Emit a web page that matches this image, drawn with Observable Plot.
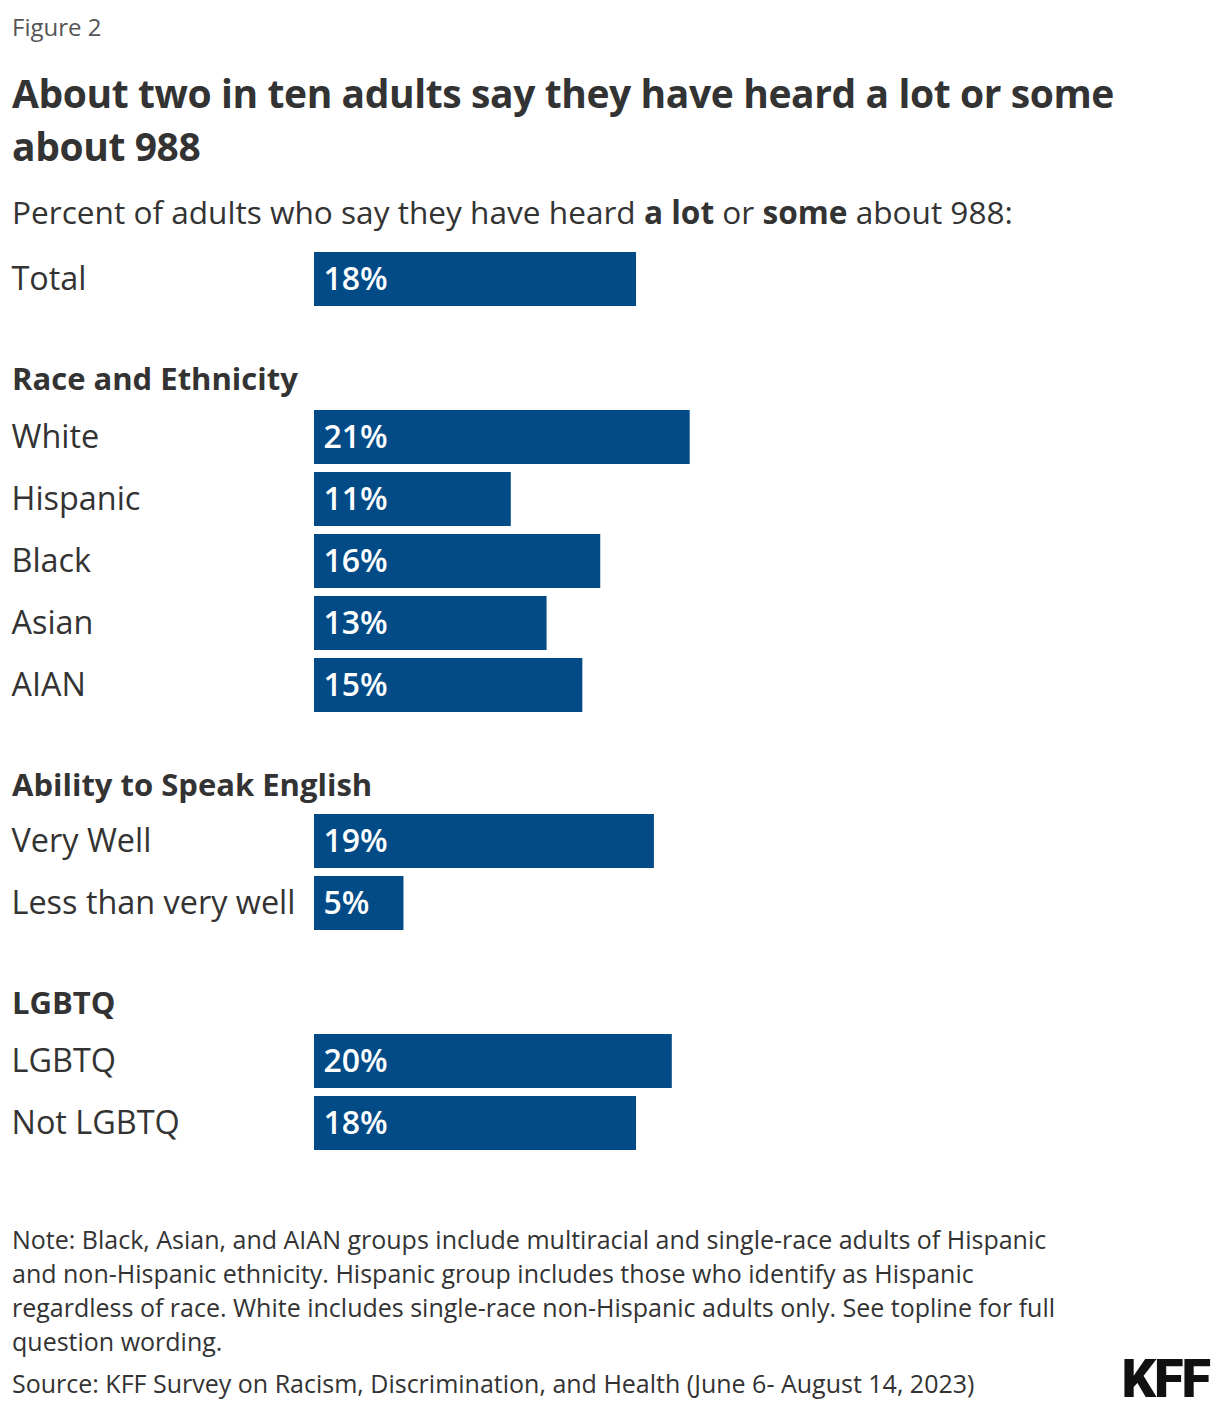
<!DOCTYPE html>
<html>
<head>
<meta charset="utf-8">
<script src="https://cdn.jsdelivr.net/npm/d3@7"></script>
<script src="https://cdn.jsdelivr.net/npm/@observablehq/plot@0.6"></script>
<style>
  html, body { margin: 0; padding: 0; background: #fff; }
  body { width: 1220px; height: 1410px; position: relative; font-family: "Open Sans", "Noto Sans", sans-serif; color: #333; overflow: hidden; }
  .abs { position: absolute; left: 12px; white-space: nowrap; }
  #fig { top: 12px; font-size: 24px; line-height: 30px; color: #555; }
  #title { top: 66px; font-size: 39px; line-height: 53px; font-weight: 700; color: #333; letter-spacing: -0.4px; }
  #subtitle { top: 192px; font-size: 31.6px; line-height: 40px; }
  .hdr { font-size: 31px; line-height: 40px; font-weight: 700; }
  .sec { position: absolute; left: 0; }
  #note { top: 1222px; font-size: 25px; line-height: 34px; }
  #source { top: 1366px; font-size: 25px; line-height: 34px; }
  #logo { position: absolute; right: 11px; top: 1349px; font-size: 54px; line-height: 60px; font-weight: 900; color: #111; letter-spacing: -2px; font-family: "Liberation Sans Narrow", "Roboto", sans-serif; }
</style>
</head>
<body>
<div id="fig" class="abs">Figure 2</div>
<div id="title" class="abs">About two in ten adults say they have heard a lot or some<br>about 988</div>
<div id="subtitle" class="abs">Percent of adults who say they have heard <b>a lot</b> or <b>some</b> about 988:</div>
<div id="charts"></div>
<div id="note" class="abs">Note: Black, Asian, and AIAN groups include multiracial and single-race adults of Hispanic<br>and non-Hispanic ethnicity. Hispanic group includes those who identify as Hispanic<br>regardless of race. White includes single-race non-Hispanic adults only. See topline for full<br>question wording.</div>
<div id="source" class="abs">Source: KFF Survey on Racism, Discrimination, and Health (June 6- August 14, 2023)</div>
<div id="logo">KFF</div>
<script>
// ---- Data ----
const totalLabels = ["Total"];
const totalValues = [18];

const raceLabels = ["White", "Hispanic", "Black", "Asian", "AIAN"];
const raceValues = [21, 11, 16, 13, 15];

const englishLabels = ["Very Well", "Less than very well"];
const englishValues = [19, 5];

const lgbtqLabels = ["LGBTQ", "Not LGBTQ"];
const lgbtqValues = [20, 18];

const sectionHeaders = [null, "Race and Ethnicity", "Ability to Speak English", "LGBTQ"];

// ---- Layout (section placement only) ----
const STEP = 62, GAP = 8;
const sections = [
  {header: sectionHeaders[0], labels: totalLabels, values: totalValues, headerTop: null, chartTop: 252 - GAP / 2},
  {header: sectionHeaders[1], labels: raceLabels, values: raceValues, headerTop: 358, chartTop: 410 - GAP / 2},
  {header: sectionHeaders[2], labels: englishLabels, values: englishValues, headerTop: 764, chartTop: 814 - GAP / 2},
  {header: sectionHeaders[3], labels: lgbtqLabels, values: lgbtqValues, headerTop: 982, chartTop: 1034 - GAP / 2}
];

const BAR = "#024b87";
const FONT = "'Open Sans', 'Noto Sans', sans-serif";

function makeChart(labels, values) {
  const data = labels.map((l, i) => ({label: l, value: values[i]}));
  return Plot.plot({
    width: 1220,
    height: labels.length * STEP,
    marginTop: 0, marginBottom: 0, marginLeft: 314, marginRight: 0,
    x: {domain: [0, 50], range: [314, 1208.5], axis: null},
    y: {domain: labels, paddingInner: GAP / STEP, paddingOuter: GAP / 2 / STEP, label: null},
    style: {fontFamily: FONT, fontSize: "32.4px", color: "#333", background: "transparent", overflow: "visible"},
    marks: [
      Plot.barX(data, {x: "value", y: "label", fill: BAR}),
      Plot.text(data, {x: 0, y: "label", text: d => d.value + "%", textAnchor: "start", dx: 9, fill: "white", fontWeight: 600, fontSize: 32}),
      Plot.axisY({tickSize: 0, textAnchor: "start", dx: -294, label: null, fill: "#333"})
    ]
  });
}

const root = document.getElementById("charts");
for (const s of sections) {
  if (s.header) {
    const h = document.createElement("div");
    h.className = "abs hdr";
    h.style.top = s.headerTop + "px";
    h.textContent = s.header;
    root.appendChild(h);
  }
  const wrap = document.createElement("div");
  wrap.className = "sec";
  wrap.style.top = s.chartTop + "px";
  wrap.appendChild(makeChart(s.labels, s.values));
  root.appendChild(wrap);
}
</script>
</body>
</html>
